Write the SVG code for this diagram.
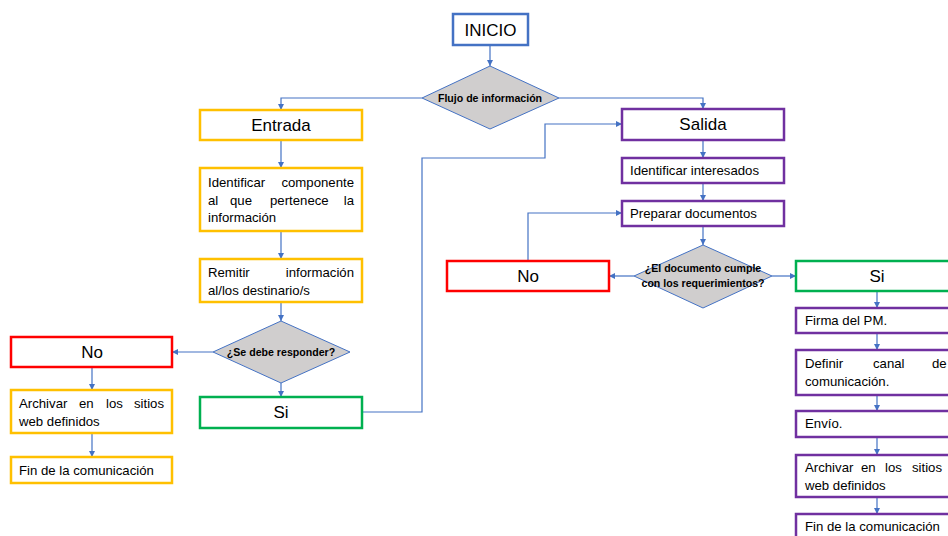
<svg xmlns="http://www.w3.org/2000/svg" width="948" height="536" viewBox="0 0 948 536">
<defs>
<marker id="ah" viewBox="0 0 10 10" refX="10" refY="5" markerWidth="6" markerHeight="6" orient="auto" markerUnits="userSpaceOnUse">
<path d="M0,0 L10,5 L0,10 z" fill="#4472C4"/>
</marker>
<style>
.box{fill:#fff;stroke-width:2.5}
.y{stroke:#FFC000}.r{stroke:#FF0000}.g{stroke:#00B050}.p{stroke:#7030A0}.b{stroke:#4472C4}
.dia{fill:#D0CECE;stroke:#4472C4;stroke-width:1}
.t{font-family:"Liberation Sans",Arial,sans-serif;font-size:17px;fill:#000;text-anchor:middle}
.s{font-family:"Liberation Sans",Arial,sans-serif;font-size:13.2px;fill:#000}
.e{text-anchor:end}
.d{font-family:"Liberation Sans",Arial,sans-serif;font-size:10.6px;font-weight:bold;fill:#000;text-anchor:middle}
.c{fill:none;stroke:#4472C4;stroke-width:1.2}
</style>
</defs>
<rect width="948" height="536" fill="#fff"/>
<g id="connectors">
<path class="c" d="M490,45 V66" marker-end="url(#ah)"/>
<path class="c" d="M422,98 H281 V110" marker-end="url(#ah)"/>
<path class="c" d="M559,98 H703 V109" marker-end="url(#ah)"/>
<path class="c" d="M281,140 V168" marker-end="url(#ah)"/>
<path class="c" d="M281,231 V259" marker-end="url(#ah)"/>
<path class="c" d="M281,302 V321" marker-end="url(#ah)"/>
<path class="c" d="M213,352 H172" marker-end="url(#ah)"/>
<path class="c" d="M281,383 V397" marker-end="url(#ah)"/>
<path class="c" d="M92,367 V390" marker-end="url(#ah)"/>
<path class="c" d="M92,433 V457" marker-end="url(#ah)"/>
<path class="c" d="M362,412 H422 V158 H545 V124 H622" marker-end="url(#ah)"/>
<path class="c" d="M703,140 V158" marker-end="url(#ah)"/>
<path class="c" d="M703,183 V201" marker-end="url(#ah)"/>
<path class="c" d="M703,226 V245" marker-end="url(#ah)"/>
<path class="c" d="M634,276 H609" marker-end="url(#ah)"/>
<path class="c" d="M528,261 V213 H622" marker-end="url(#ah)"/>
<path class="c" d="M772,276 H796" marker-end="url(#ah)"/>
<path class="c" d="M877,291 V308" marker-end="url(#ah)"/>
<path class="c" d="M877,333 V350" marker-end="url(#ah)"/>
<path class="c" d="M877,395 V411" marker-end="url(#ah)"/>
<path class="c" d="M877,437 V455" marker-end="url(#ah)"/>
<path class="c" d="M877,497 V514" marker-end="url(#ah)"/>
</g>
<g id="inicio"><rect class="box b" x="453" y="14" width="75" height="31"/><text class="t" x="490.5" y="36">INICIO</text></g>
<g id="flujo"><polygon class="dia" points="490,66 559,98 490,129 422,98"/><text class="d" x="490" y="101.5">Flujo de información</text></g>
<g id="entrada"><rect class="box y" x="200" y="110" width="162" height="30"/><text class="t" x="281" y="131">Entrada</text></g>
<g id="identificar-componente"><rect class="box y" x="200" y="168" width="162" height="63"/>
<text class="s" x="208" y="187">Identificar</text><text class="s e" x="354" y="187">componente</text>
<text class="s" x="208" y="205">al</text><text class="s" x="230" y="205">que</text><text class="s" x="270" y="205">pertenece</text><text class="s e" x="354" y="205">la</text>
<text class="s" x="208" y="222">información</text></g>
<g id="remitir"><rect class="box y" x="200" y="259" width="162" height="43"/>
<text class="s" x="208" y="277">Remitir</text><text class="s e" x="354" y="277">información</text>
<text class="s" x="208" y="295">al/los destinario/s</text></g>
<g id="responder"><polygon class="dia" points="281,321 350,352 281,383 213,352"/><text class="d" x="281" y="356">¿Se debe responder?</text></g>
<g id="no-izq"><rect class="box r" x="11" y="337" width="161" height="30"/><text class="t" x="92" y="358">No</text></g>
<g id="archivar-izq"><rect class="box y" x="11" y="390" width="161" height="43"/>
<text class="s" x="19" y="408">Archivar</text><text class="s" x="79" y="408">en</text><text class="s" x="106" y="408">los</text><text class="s e" x="164" y="408">sitios</text>
<text class="s" x="19" y="426">web definidos</text></g>
<g id="fin-izq"><rect class="box y" x="11" y="457" width="161" height="26"/><text class="s" x="19" y="475">Fin de la comunicación</text></g>
<g id="si-izq"><rect class="box g" x="200" y="397" width="162" height="31"/><text class="t" x="281" y="418">Si</text></g>
<g id="salida"><rect class="box p" x="622" y="109" width="162" height="31"/><text class="t" x="703" y="130">Salida</text></g>
<g id="identificar-interesados"><rect class="box p" x="622" y="158" width="162" height="25"/><text class="s" x="630" y="175">Identificar interesados</text></g>
<g id="preparar"><rect class="box p" x="622" y="201" width="162" height="25"/><text class="s" x="630" y="218">Preparar documentos</text></g>
<g id="cumple"><polygon class="dia" points="703,245 772,276 703,308 634,276"/>
<text class="d" x="703" y="272">¿El documento cumple</text>
<text class="d" x="703" y="287">con los requerimientos?</text></g>
<g id="no-centro"><rect class="box r" x="447" y="261" width="162" height="30"/><text class="t" x="528" y="282">No</text></g>
<g id="si-der"><rect class="box g" x="796" y="261" width="162" height="30"/><text class="t" x="877" y="282">Si</text></g>
<g id="firma"><rect class="box p" x="796" y="308" width="162" height="25"/><text class="s" x="805" y="325">Firma del PM.</text></g>
<g id="definir"><rect class="box p" x="796" y="350" width="162" height="45"/>
<text class="s" x="805" y="368">Definir</text><text class="s" x="873" y="368">canal</text><text class="s" x="932" y="368">de</text>
<text class="s" x="805" y="386">comunicación.</text></g>
<g id="envio"><rect class="box p" x="796" y="411" width="162" height="26"/><text class="s" x="805" y="428">Envío.</text></g>
<g id="archivar-der"><rect class="box p" x="796" y="455" width="162" height="42"/>
<text class="s" x="805" y="472">Archivar</text><text class="s" x="861" y="472">en</text><text class="s" x="885" y="472">los</text><text class="s" x="912" y="472">sitios</text>
<text class="s" x="805" y="490">web definidos</text></g>
<g id="fin-der"><rect class="box p" x="796" y="514" width="162" height="26"/><text class="s" x="805" y="531">Fin de la comunicación</text></g>
</svg>
